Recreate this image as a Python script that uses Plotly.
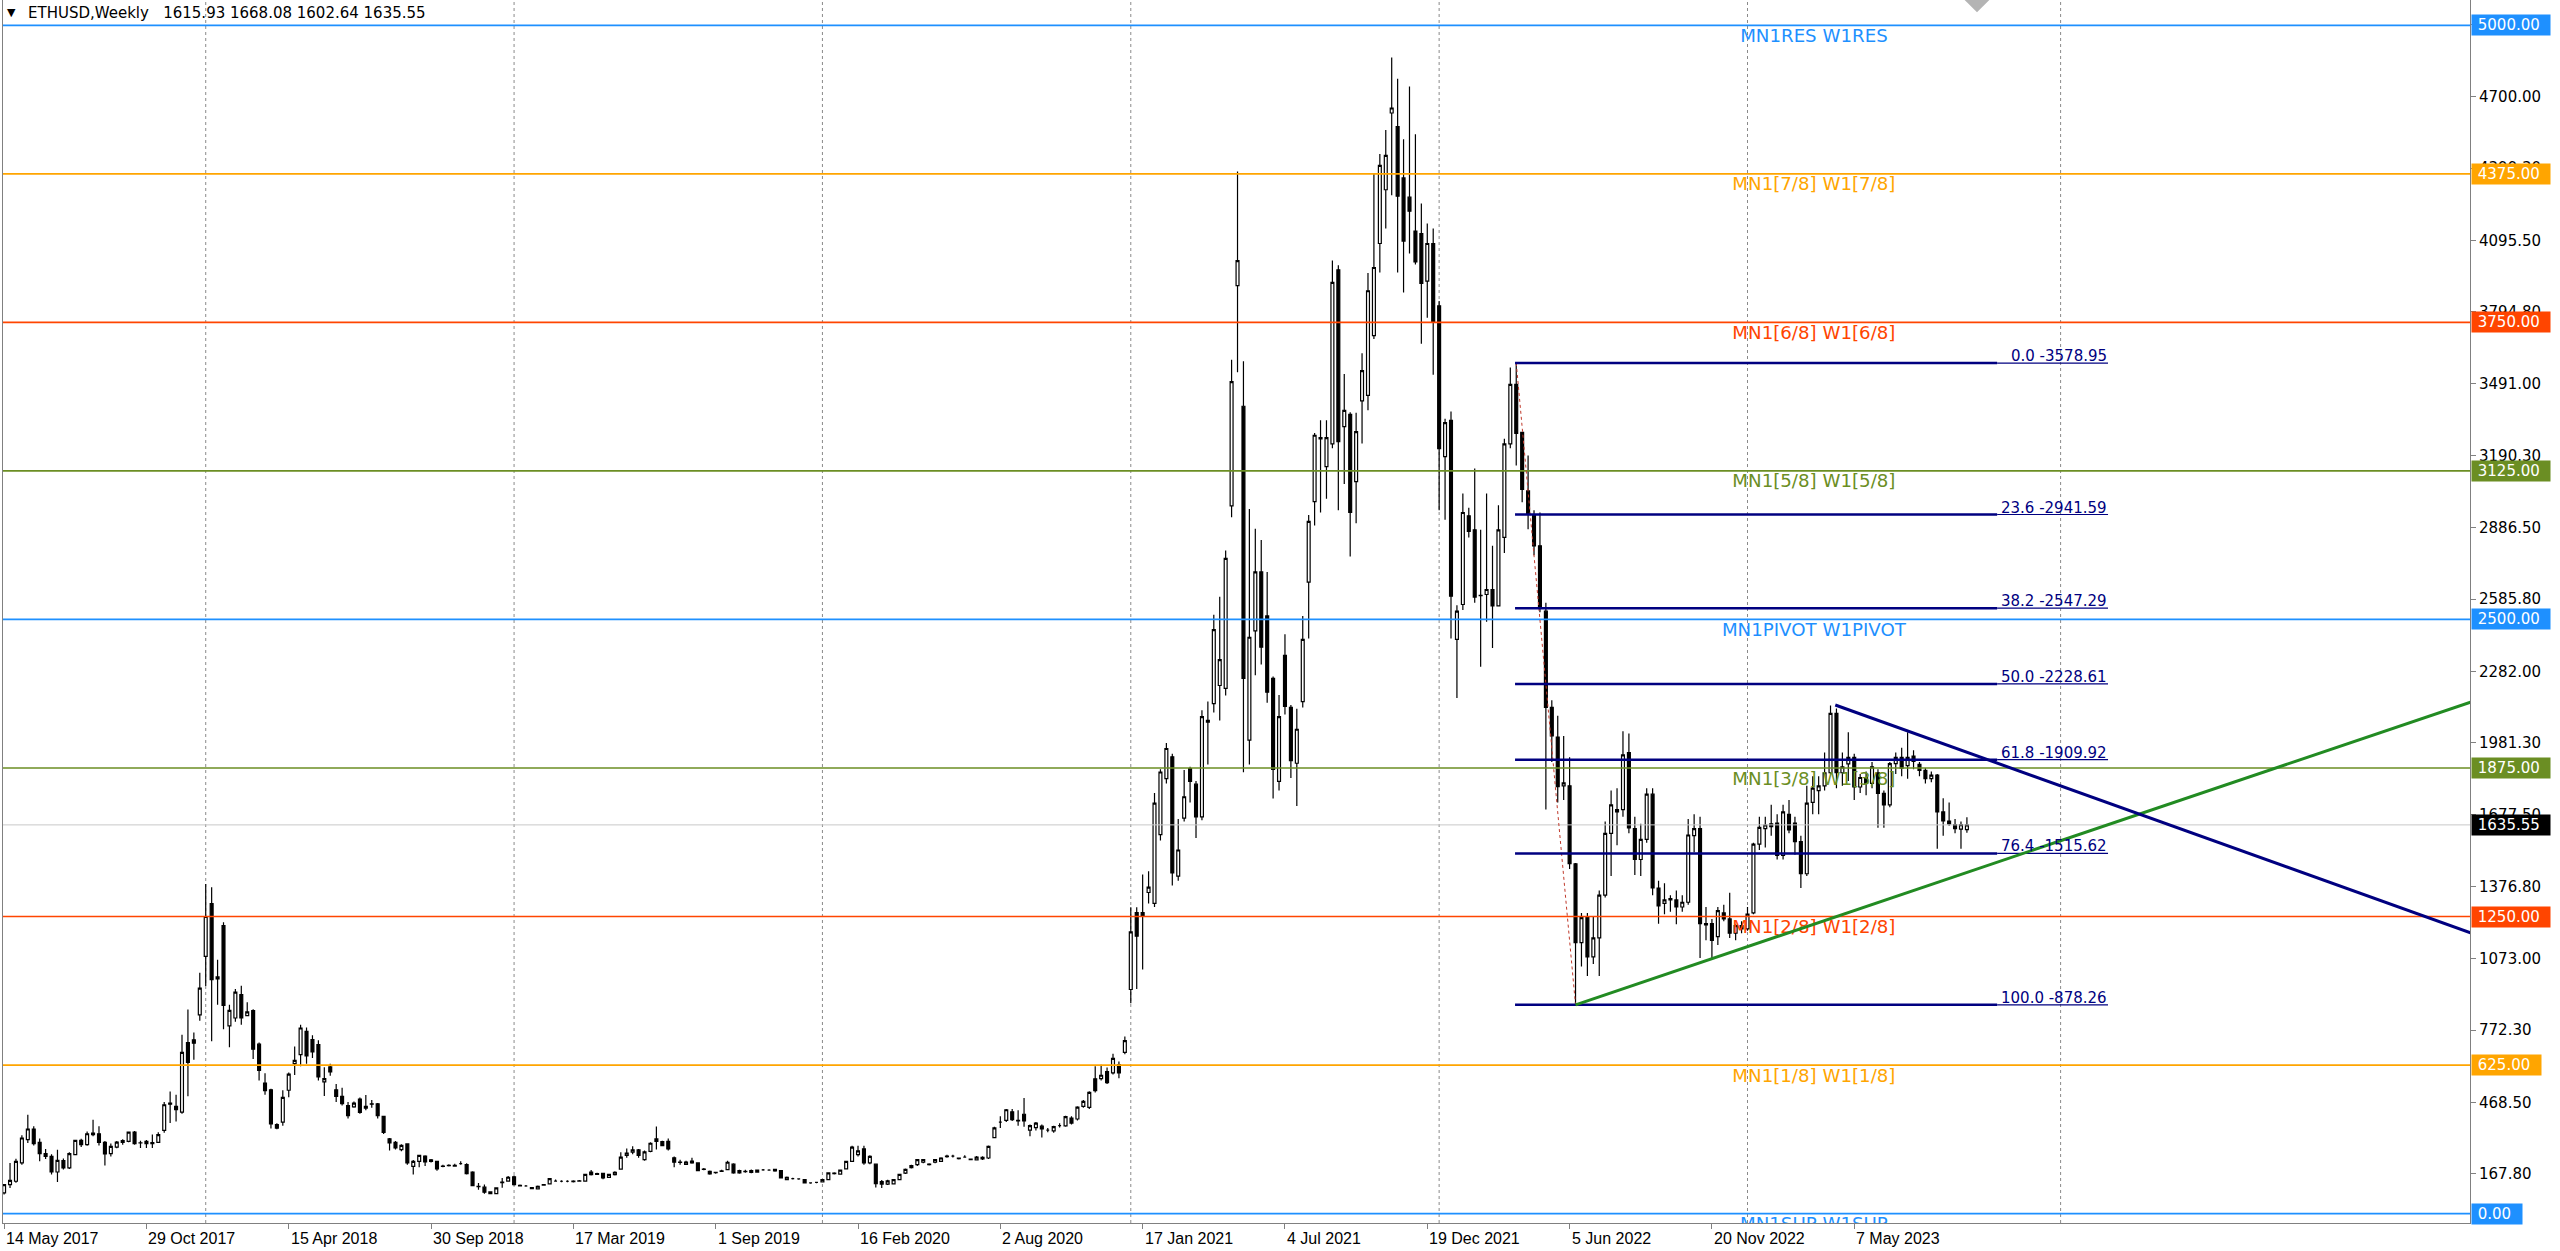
import plotly.graph_objects as go
import pandas as pd

# ---------------- data (weekly bars, first bar = week of 14 May 2017) ----------------
START = pd.Timestamp("2017-05-14")

opens = [
    87, 122, 136, 213, 311, 356, 300, 252, 241, 175,
    223, 192, 248, 308, 290, 332, 336, 300, 252, 280,
    300, 304, 343, 297, 294, 299, 300, 350, 465, 451,
    427, 720, 731, 836, 1082, 1304, 988, 1212, 790, 823,
    921, 833, 854, 713, 549, 521, 374, 385, 519, 631,
    669, 767, 732, 711, 554, 617, 521, 493, 454, 449,
    482, 451, 462, 462, 409, 315, 300, 269, 293, 199,
    220, 242, 226, 220, 200, 203, 203, 210, 206, 175,
    115, 111, 91, 84, 130, 137, 155, 119, 116, 109,
    104, 120, 125, 137, 136, 136, 137, 137, 137, 175,
    165, 169, 152, 164, 187, 245, 258, 268, 227, 262,
    314, 303, 304, 235, 215, 207, 221, 213, 186, 178,
    173, 178, 185, 208, 171, 178, 181, 174, 184, 183,
    186, 181, 143, 147, 146, 143, 129, 131, 133, 143,
    168, 166, 188, 220, 248, 272, 213, 208, 135, 124,
    125, 143, 170, 193, 206, 216, 208, 216, 220, 240,
    242, 233, 238, 229, 226, 237, 234, 320, 385, 392,
    428, 392, 418, 351, 362, 368, 351, 348, 370, 369,
    402, 398, 451, 447, 567, 568, 597, 592, 627, 678,
    943, 1266, 1266, 1351, 1305, 1595, 1830, 1922, 1420, 1664,
    1872, 1807, 1669, 2068, 2146, 2222, 2210, 2978, 3905, 3397,
    1992, 2452, 2700, 2515, 2252, 1819, 2349, 2130, 1895, 2154,
    2657, 2996, 3265, 3143, 3239, 3971, 3311, 3363, 3080, 3420,
    3443, 3694, 4082, 4308, 4631, 4574, 4358, 4277, 4134, 4124,
    3924, 4082, 3820, 3185, 3338, 2416, 2563, 2936, 2877, 2600,
    2605, 2626, 2557, 2845, 3239, 3489, 3287, 3041, 2939, 2810,
    2535, 2130, 2005, 1800, 1800, 1472, 1140, 1245, 1080, 1160,
    1340, 1600, 1690, 1700, 1940, 1620, 1490, 1575, 1765, 1370,
    1305, 1320, 1320, 1290, 1310, 1590, 1620, 1220, 1220, 1165,
    1265, 1240, 1180, 1212, 1198, 1265, 1555, 1620, 1640, 1643,
    1507, 1680, 1643, 1565, 1430, 1730, 1780, 1800, 1855, 2105,
    1855, 1892, 1920, 1795, 1835, 1810, 1855, 1768, 1720, 1893,
    1920, 1885, 1925, 1890, 1865, 1830, 1845, 1690, 1652, 1637,
    1618, 1615.93,
]
highs = [
    125, 213, 231, 330, 416, 367, 316, 272, 250, 269,
    232, 258, 310, 315, 345, 395, 367, 305, 295, 305,
    313, 345, 348, 307, 310, 333, 342, 470, 514, 500,
    752, 859, 762, 1013, 1387, 1373, 1068, 1226, 879, 945,
    959, 889, 860, 720, 590, 525, 380, 519, 594, 703,
    795, 783, 750, 729, 616, 630, 545, 530, 470, 472,
    489, 499, 478, 465, 412, 318, 305, 292, 296, 225,
    247, 245, 230, 222, 206, 208, 210, 220, 212, 178,
    129, 122, 94, 110, 150, 158, 160, 122, 120, 112,
    118, 125, 150, 143, 140, 140, 140, 141, 168, 183,
    172, 172, 168, 178, 258, 274, 283, 272, 265, 300,
    366, 306, 316, 240, 227, 222, 235, 216, 192, 181,
    176, 184, 222, 212, 184, 184, 185, 186, 188, 187,
    188, 183, 156, 151, 149, 145, 132, 134, 146, 172,
    174, 185, 222, 285, 285, 285, 245, 210, 141, 142,
    146, 168, 190, 205, 229, 230, 212, 230, 237, 248,
    248, 236, 246, 232, 242, 241, 286, 365, 410, 440,
    440, 435, 486, 375, 385, 375, 360, 370, 380, 412,
    410, 452, 478, 515, 620, 626, 615, 673, 640, 745,
    1289, 1289, 1427, 1440, 1770, 1870, 1980, 1935, 1660, 1867,
    1880, 1820, 2118, 2155, 2520, 2595, 2790, 3593, 4385, 3586,
    2965, 2882, 2834, 2700, 2260, 2182, 2438, 2140, 2124, 2515,
    2940, 3285, 3338, 3338, 4010, 3990, 3533, 3372, 3370, 3620,
    3958, 4375, 4459, 4559, 4865, 4775, 4521, 4743, 4542, 4250,
    4166, 4145, 3840, 3345, 3375, 2560, 3030, 2970, 3135, 2877,
    3030, 2810, 2980, 3260, 3560, 3578.95, 3290, 3190, 2960, 2950,
    2570, 2160, 2095, 2010, 1920, 1475, 1265, 1265, 1250, 1360,
    1650, 1780, 1790, 2030, 2020, 1670, 1640, 1790, 1790, 1400,
    1390, 1340, 1360, 1340, 1660, 1680, 1670, 1290, 1240, 1290,
    1300, 1350, 1220, 1230, 1290, 1560, 1670, 1670, 1720, 1680,
    1720, 1740, 1670, 1590, 1800, 1840, 1840, 1940, 2138, 2125,
    1940, 2025, 1935, 1850, 1860, 1900, 1870, 1780, 1900, 1940,
    1960, 2025, 1950, 1900, 1875, 1860, 1850, 1748, 1730, 1660,
    1650, 1668.08,
]
lows = [
    80, 108, 130, 205, 297, 286, 220, 230, 165, 133,
    185, 188, 245, 280, 285, 325, 287, 202, 240, 275,
    290, 300, 290, 276, 276, 276, 298, 340, 381, 388,
    420, 494, 647, 811, 958, 725, 879, 776, 700, 807,
    795, 830, 650, 560, 500, 358, 355, 370, 490, 583,
    620, 630, 655, 560, 495, 580, 470, 455, 400, 445,
    420, 435, 445, 400, 335, 265, 270, 262, 205, 164,
    195, 200, 215, 180, 195, 198, 198, 205, 165, 115,
    100, 83, 82, 82, 109, 135, 118, 115, 113, 103,
    102, 117, 122, 134, 132, 132, 131, 135, 135, 160,
    162, 145, 150, 160, 185, 235, 250, 235, 222, 258,
    270, 283, 265, 195, 206, 204, 210, 178, 182, 163,
    168, 175, 182, 168, 168, 172, 170, 172, 180, 180,
    176, 148, 140, 143, 142, 127, 126, 128, 131, 141,
    164, 163, 185, 218, 240, 205, 208, 110, 108, 120,
    122, 140, 167, 190, 200, 212, 202, 212, 218, 235,
    236, 228, 235, 224, 223, 226, 230, 318, 360, 385,
    390, 370, 365, 325, 350, 320, 342, 340, 362, 365,
    375, 392, 445, 440, 510, 560, 545, 585, 570, 670,
    885, 945, 1027, 1305, 1290, 1570, 1810, 1380, 1400, 1650,
    1730, 1580, 1655, 1890, 2108, 2075, 2180, 2930, 3540, 1857,
    1890, 2265, 2310, 2150, 1747, 1780, 2100, 1833, 1715, 2130,
    2420, 2895, 2950, 3008, 3220, 2960, 3070, 2765, 2905, 3240,
    3380, 3680, 3960, 4145, 4285, 3960, 3876, 4040, 3994, 3660,
    3770, 3530, 2960, 2920, 2420, 2170, 2540, 2845, 2570, 2301,
    2490, 2380, 2555, 2780, 3220, 3148, 2993, 2880, 2770, 2530,
    1700, 1900, 1730, 1740, 1450, 878.26, 1040, 1000, 1050, 1000,
    1330, 1420, 1550, 1670, 1600, 1425, 1420, 1560, 1340, 1220,
    1260, 1270, 1217, 1270, 1300, 1520, 1075, 1150, 1075, 1130,
    1230, 1160, 1150, 1180, 1190, 1260, 1530, 1540, 1590, 1490,
    1490, 1600, 1510, 1370, 1420, 1680, 1680, 1780, 1850, 1790,
    1800, 1820, 1740, 1770, 1760, 1790, 1623, 1623, 1710, 1850,
    1840, 1830, 1870, 1840, 1810, 1815, 1535, 1590, 1632, 1600,
    1535, 1602.64,
]
closes = [
    122, 140, 220, 318, 356, 294, 252, 241, 175, 224,
    192, 252, 308, 290, 336, 339, 300, 251, 283, 301,
    307, 343, 294, 298, 304, 294, 332, 458, 460, 437,
    678, 636, 717, 949, 1250, 984, 996, 876, 855, 932,
    823, 849, 692, 603, 517, 377, 360, 489, 587, 645,
    781, 664, 680, 575, 568, 596, 493, 463, 412, 465,
    426, 444, 460, 412, 342, 297, 276, 287, 213, 220,
    245, 217, 220, 188, 199, 202, 200, 210, 168, 118,
    113, 90, 84, 108, 133, 153, 122, 117, 116, 105,
    115, 122, 147, 137, 136, 136, 134, 138, 165, 164,
    168, 150, 165, 174, 238, 255, 268, 245, 260, 296,
    304, 286, 272, 216, 217, 217, 213, 181, 187, 167,
    172, 180, 216, 171, 181, 176, 173, 183, 184, 183,
    180, 150, 153, 147, 146, 129, 129, 131, 143, 171,
    170, 183, 220, 280, 264, 213, 241, 126, 124, 138,
    143, 165, 186, 202, 227, 227, 206, 227, 234, 242,
    242, 231, 238, 227, 238, 230, 283, 361, 385, 437,
    395, 390, 390, 370, 381, 356, 351, 366, 370, 408,
    381, 448, 472, 510, 517, 582, 551, 653, 592, 728,
    1185, 1167, 1250, 1374, 1727, 1858, 1957, 1434, 1530, 1754,
    1819, 1669, 2091, 2075, 2457, 2331, 2757, 3501, 4010, 2252,
    2425, 2700, 2383, 2194, 1869, 2091, 2134, 1906, 2038, 2416,
    2913, 3275, 3260, 3265, 3918, 3248, 3380, 2950, 3290, 3547,
    3883, 3981, 4411, 4453, 4652, 4281, 4092, 4218, 4004, 3914,
    4082, 3750, 3219, 3328, 2598, 2535, 2950, 2871, 2594, 2601,
    2626, 2557, 2877, 3239, 3489, 3283, 3047, 2945, 2810, 2549,
    2130, 2010, 1796, 1812, 1472, 1140, 1245, 1080, 1160, 1340,
    1600, 1720, 1700, 1930, 1623, 1490, 1575, 1765, 1370, 1295,
    1320, 1325, 1290, 1310, 1593, 1620, 1220, 1215, 1150, 1275,
    1240, 1180, 1212, 1198, 1260, 1555, 1625, 1635, 1628, 1507,
    1690, 1614, 1565, 1430, 1727, 1790, 1800, 1855, 2105, 1855,
    1880, 1920, 1795, 1835, 1810, 1880, 1768, 1720, 1893, 1920,
    1874, 1920, 1903, 1865, 1830, 1845, 1690, 1652, 1640, 1620,
    1637, 1635.55,
]

# x-axis labels (bar index -> label)
x_tick_bars = [0, 24, 48, 72, 96, 120, 144, 168, 192, 216, 240, 264, 288, 312]
x_tick_labels = ["14 May 2017", "29 Oct 2017", "15 Apr 2018", "30 Sep 2018", "17 Mar 2019",
                 "1 Sep 2019", "16 Feb 2020", "2 Aug 2020", "17 Jan 2021", "4 Jul 2021",
                 "19 Dec 2021", "5 Jun 2022", "20 Nov 2022", "7 May 2023"]

# y-axis ticks
y_tick_vals = [167.8, 468.5, 772.3, 1073.0, 1376.8, 1677.5, 1981.3, 2282.0, 2585.8,
               2886.5, 3190.3, 3491.0, 3794.8, 4095.5, 4399.3, 4700.0, 5003.8]

# vertical dotted grid (bar positions)
grid_bars = [34, 86, 138, 190, 242, 294, 346.8]

# Murrey-style levels
level_prices = [5000, 4375, 3750, 3125, 2500, 1875, 1250, 625, 0]
level_names = ["MN1RES W1RES", "MN1[7/8] W1[7/8]", "MN1[6/8] W1[6/8]", "MN1[5/8] W1[5/8]",
               "MN1PIVOT W1PIVOT", "MN1[3/8] W1[3/8]", "MN1[2/8] W1[2/8]", "MN1[1/8] W1[1/8]",
               "MN1SUP W1SUP"]
level_colors = ["#1E90FF", "#FFA500", "#FF4500", "#6B8E23", "#1E90FF",
                "#6B8E23", "#FF4500", "#FFA500", "#1E90FF"]
level_label_bar = 305.2

# Fibonacci retracement
fib_pcts = ["0.0", "23.6", "38.2", "50.0", "61.8", "76.4", "100.0"]
fib_prices = [3578.95, 2941.59, 2547.29, 2228.61, 1909.92, 1515.62, 878.26]
fib_bars = [254.8, 336.1, 354.8]          # start, end of thick part, end of line
fib_anchor_bars = [255, 265]
fib_anchor_prices = [3578.95, 878.26]

# trend lines
down_bars = [308.8, 416.5]
down_prices = [2140, 1176]
up_bars = [265, 416.5]
up_prices = [878.26, 2157]

last_price = 1635.55
header = "ETHUSD,Weekly\u00a0\u00a0 1615.93 1668.08 1602.64 1635.55"
shift_marker_bar = 332.7

X_RANGE_BARS = [-0.1855, 415.84]
Y_RANGE = [-39.6, 5106.5]


def bd(i):
    return START + pd.Timedelta(days=7 * i)


dates = [bd(i) for i in range(len(opens))]
FONT = "DejaVu Sans"

fig = go.Figure()

# dotted vertical grid
for g in grid_bars:
    fig.add_shape(type="line", xref="x", yref="paper", x0=bd(g), x1=bd(g), y0=0, y1=1,
                  line=dict(color="#8a8a8a", width=1, dash="dot"), layer="below")

# horizontal level lines
xl = [bd(-2), bd(430)]
for p, c in zip(level_prices, level_colors):
    fig.add_trace(go.Scatter(x=xl, y=[p, p], mode="lines", line=dict(color=c, width=1.7),
                             hoverinfo="skip", showlegend=False))
# current price line
fig.add_trace(go.Scatter(x=xl, y=[last_price, last_price], mode="lines",
                         line=dict(color="#c8c8c8", width=1), hoverinfo="skip", showlegend=False))

# level names
for p, n, c in zip(level_prices, level_names, level_colors):
    fig.add_trace(go.Scatter(x=[bd(level_label_bar)], y=[p - 50.5], mode="text", text=[n],
                             textposition="middle center",
                             textfont=dict(family=FONT, size=18.2, color=c),
                             hoverinfo="skip", showlegend=False, cliponaxis=True))

# candles
fig.add_trace(go.Candlestick(
    x=dates, open=opens, high=highs, low=lows, close=closes,
    increasing=dict(line=dict(color="black", width=1.2), fillcolor="white"),
    decreasing=dict(line=dict(color="black", width=1.2), fillcolor="black"),
    whiskerwidth=0, showlegend=False, hoverinfo="skip"))

# fib diagonal
fig.add_trace(go.Scatter(x=[bd(b) for b in fib_anchor_bars], y=fib_anchor_prices, mode="lines",
                         line=dict(color="#c0392b", width=1, dash="dot"),
                         hoverinfo="skip", showlegend=False))
# fib lines
for p in fib_prices:
    fig.add_trace(go.Scatter(x=[bd(fib_bars[0]), bd(fib_bars[1])], y=[p, p], mode="lines",
                             line=dict(color="#000080", width=2.5), hoverinfo="skip", showlegend=False))
    fig.add_trace(go.Scatter(x=[bd(fib_bars[1]), bd(fib_bars[2])], y=[p, p], mode="lines",
                             line=dict(color="#000080", width=1.2), hoverinfo="skip", showlegend=False))

# trend lines
fig.add_trace(go.Scatter(x=[bd(b) for b in up_bars], y=up_prices, mode="lines",
                         line=dict(color="#228B22", width=3), hoverinfo="skip", showlegend=False))
fig.add_trace(go.Scatter(x=[bd(b) for b in down_bars], y=down_prices, mode="lines",
                         line=dict(color="#000080", width=3), hoverinfo="skip", showlegend=False))

# chart shift marker
fig.add_trace(go.Scatter(x=[bd(shift_marker_bar)], y=[Y_RANGE[1]], mode="markers",
                         marker=dict(symbol="diamond", size=19, color="#b4b4b4"),
                         hoverinfo="skip", showlegend=False, cliponaxis=True))

annotations = []
# fib labels
for pct, p in zip(fib_pcts, fib_prices):
    annotations.append(dict(x=bd(fib_bars[2]), y=p, xref="x", yref="y", xanchor="right",
                            yanchor="bottom", yshift=-3, showarrow=False, borderpad=0,
                            text=f"{pct} -{p:.2f}", font=dict(family=FONT, size=15, color="#000080")))

# price boxes on the axis
box_prices = level_prices + [last_price]
box_colors = level_colors + ["#000000"]
for p, c in zip(box_prices, box_colors):
    annotations.append(dict(x=1, y=p, xref="paper", yref="y", xanchor="left", yanchor="middle",
                            xshift=1, showarrow=False, bgcolor=c, borderpad=1,
                            text="\u00a0" + f"{p:.2f}" + "\u00a0\u00a0",
                            font=dict(family=FONT, size=15, color="white")))

# date labels
for b, t in zip(x_tick_bars, x_tick_labels):
    annotations.append(dict(x=bd(b), y=0, xref="x", yref="paper", xanchor="left", yanchor="top",
                            xshift=0, yshift=-5, showarrow=False, text=t,
                            font=dict(family="Liberation Sans", size=16, color="black")))

# header
annotations.append(dict(x=0, y=1, xref="paper", yref="paper", xanchor="left", yanchor="middle",
                        xshift=2, yshift=-12.5, showarrow=False, text="\u25BC",
                        font=dict(family=FONT, size=11, color="black")))
annotations.append(dict(x=0, y=1, xref="paper", yref="paper", xanchor="left", yanchor="middle",
                        xshift=23, yshift=-12.5, showarrow=False, text=header,
                        font=dict(family=FONT, size=15, color="black")))

fig.update_layout(
    template="none",
    width=2560, height=1251,
    margin=dict(l=3, r=90, t=0, b=28, pad=0),
    paper_bgcolor="white", plot_bgcolor="white",
    showlegend=False, hovermode=False,
    font=dict(family=FONT, size=15, color="black"),
    annotations=annotations,
    xaxis=dict(type="date", range=[bd(X_RANGE_BARS[0]), bd(X_RANGE_BARS[1])],
               showgrid=False, zeroline=False, showline=True, linecolor="#808080", linewidth=1,
               ticks="outside", ticklen=5, tickcolor="#808080",
               tickvals=[bd(b) for b in x_tick_bars], showticklabels=False,
               rangeslider=dict(visible=False), automargin=False, fixedrange=True),
    yaxis=dict(side="right", range=Y_RANGE, showgrid=False, zeroline=False,
               showline=True, mirror=True, linecolor="#808080", linewidth=1,
               ticks="outside", ticklen=5, tickcolor="#808080",
               tickvals=y_tick_vals, ticktext=[f"{v:.2f}" for v in y_tick_vals],
               tickfont=dict(family=FONT, size=15, color="black"),
               automargin=False, fixedrange=True),
)

fig.write_html("out.html", config={"displayModeBar": False},
               post_script="document.body.style.margin='0';document.body.style.overflow='hidden';")
